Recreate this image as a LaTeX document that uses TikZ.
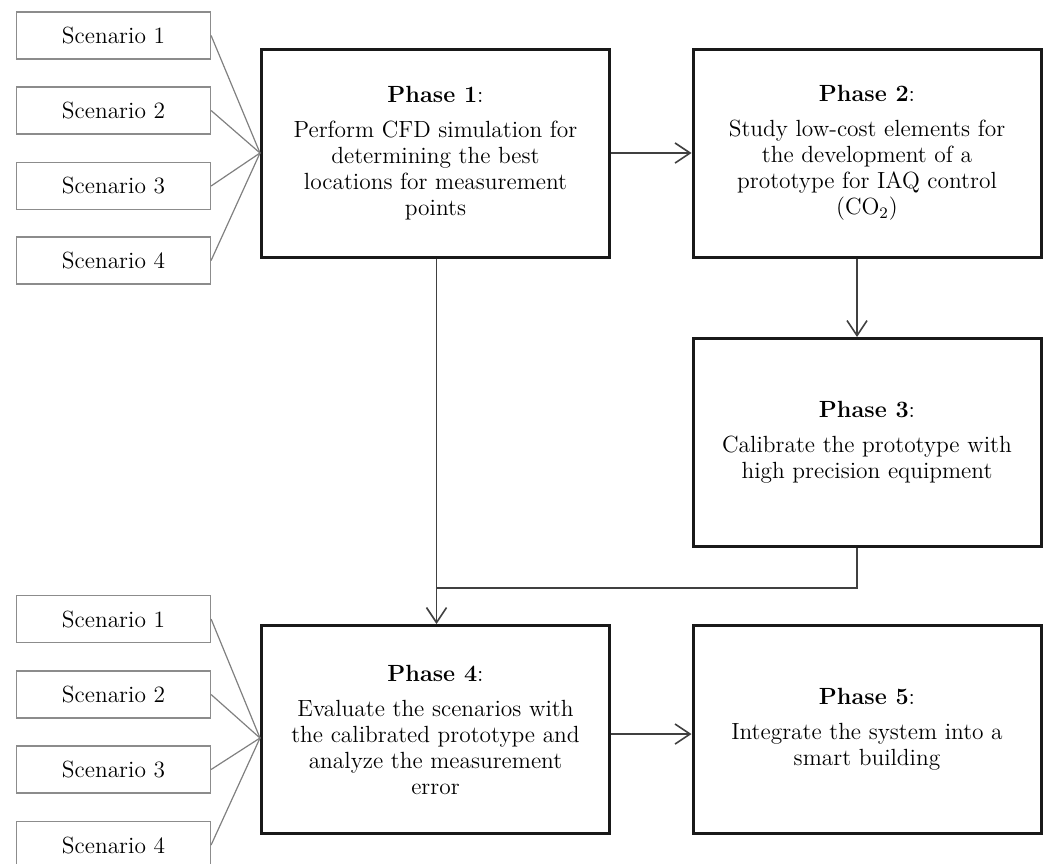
\documentclass[tikz,border=0pt]{standalone}
\usepackage{tikz}
\usetikzlibrary{arrows.meta}

\begin{document}
\begin{tikzpicture}[x=0.5pt, y=-0.5pt,
	phase/.style={draw=black!90, line width=1.5pt, minimum width=174pt, minimum height=104pt,
		align=center, inner sep=0pt, font=\fontsize{11.7}{13}\selectfont},
	scen/.style={draw=black!45, line width=0.6pt, minimum width=97pt, minimum height=23.5pt,
		inner sep=0pt, font=\fontsize{11.7}{13}\selectfont},
	link/.style={draw=black!50, line width=0.6pt},
	wire/.style={draw=black!75, line width=0.8pt},
	flow/.style={wire, -{Straight Barb[length=7.5pt,width=10pt]}}]

\useasboundingbox (0,0) rectangle (1049,863);

\node[phase] (p1) at (435.5,153) {\textbf{Phase 1}:\\[4.5pt] Perform CFD simulation for\\ determining the best\\ locations for measurement\\ points};
\node[phase] (p2) at (867,153) {\textbf{Phase 2}:\\[4.5pt] Study low-cost elements for\\ the development of a\\ prototype for IAQ control\\ (CO$_2$)};
\node[phase] (p3) at (867,442.5) {\textbf{Phase 3}:\\[4.5pt] Calibrate the prototype with\\ high precision equipment};
\node[phase] (p4) at (435.5,729.5) {\textbf{Phase 4}:\\[4.5pt] Evaluate the scenarios with\\ the calibrated prototype and\\ analyze the measurement\\ error};
\node[phase] (p5) at (867,729.5) {\textbf{Phase 5}:\\[4.5pt] Integrate the system into a\\ smart building};

\foreach \i/\y in {1/35.5, 2/110.5, 3/186, 4/260.5} {
	\node[scen] (s\i) at (113.5,\y) {Scenario \i};
	\draw[link] (s\i.east) -- (p1.west);
}
\foreach \i/\y in {1/619, 2/694.5, 3/769.5, 4/845} {
	\node[scen] (t\i) at (113.5,\y) {Scenario \i};
	\draw[link] (t\i.east) -- ([yshift=-4.25pt]p4.west);
}

\coordinate (j) at (436.5,588);

\draw[flow] (p1.east) -- (p2.west);
\draw[flow] ([xshift=-5pt]p2.south) -- ([xshift=-5pt]p3.north);
\draw[flow] ([xshift=0.5pt]p1.south) -- ([xshift=0.5pt]p4.north);
\draw[wire] ([xshift=-5pt]p3.south) |- (j);
\draw[flow] ([yshift=-2.25pt]p4.east) -- ([yshift=-2.25pt]p5.west);

\end{tikzpicture}
\end{document}
